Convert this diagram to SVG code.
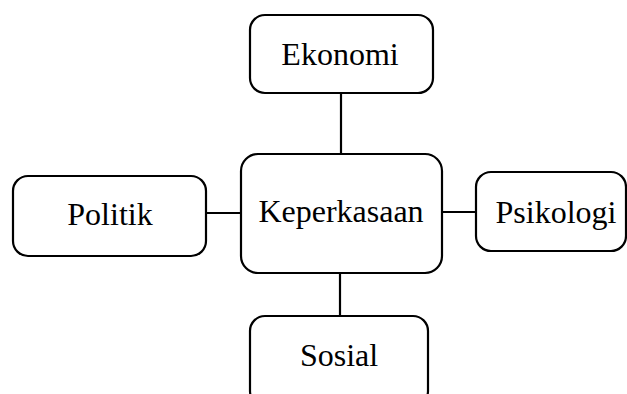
<svg xmlns="http://www.w3.org/2000/svg" width="627" height="394" viewBox="0 0 627 394">
<style>
.box{fill:#fff;stroke:#000;stroke-width:2.2}
.lbl{font-family:"Liberation Serif","Times New Roman",serif;font-size:32px;fill:#000;text-anchor:middle}
.conn line{stroke:#000;stroke-width:2.2}
</style>
<rect width="627" height="394" fill="#fff"/>
<g class="conn" id="connectors">
<line x1="341" y1="93" x2="341" y2="155"/>
<line x1="206" y1="213" x2="241" y2="213"/>
<line x1="442" y1="212" x2="477" y2="212"/>
<line x1="340" y1="273" x2="340" y2="316"/>
</g>
<g id="ekonomi"><rect class="box" x="250" y="15" width="183" height="78" rx="15"/><text class="lbl" x="340" y="65">Ekonomi</text></g>
<g id="politik"><rect class="box" x="13" y="176" width="193" height="80" rx="15"/><text class="lbl" x="110" y="225">Politik</text></g>
<g id="keperkasaan"><rect class="box" x="241" y="154" width="201" height="119" rx="17"/><text class="lbl" x="341" y="222">Keperkasaan</text></g>
<g id="psikologi"><rect class="box" x="476" y="172" width="150" height="79" rx="15"/><text class="lbl" x="556" y="223">Psikologi</text></g>
<g id="sosial"><rect class="box" x="250" y="316" width="178" height="90" rx="15"/><text class="lbl" x="339" y="366">Sosial</text></g>
</svg>
